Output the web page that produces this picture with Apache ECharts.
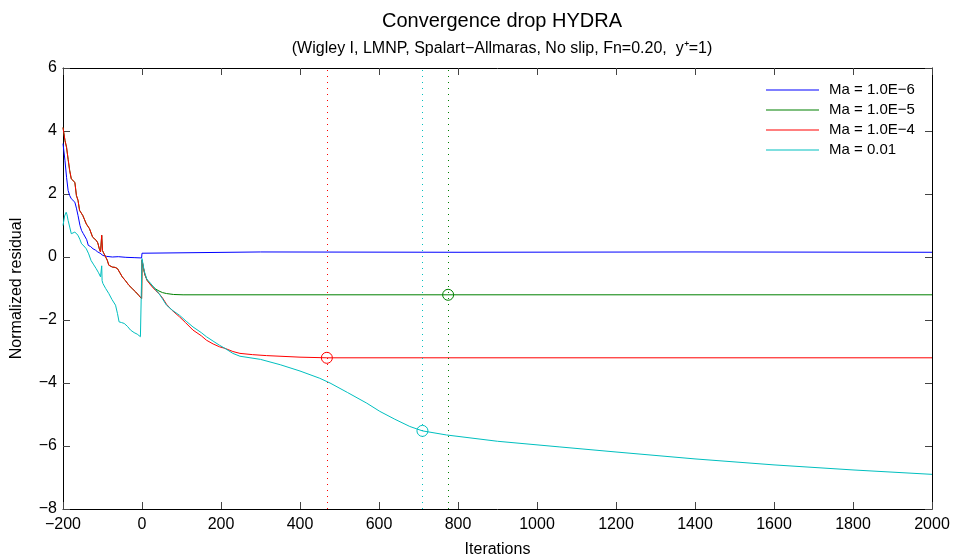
<!DOCTYPE html>
<html>
<head>
<meta charset="utf-8">
<script src="https://cdn.jsdelivr.net/npm/echarts@6/dist/echarts.min.js"></script>
<style>
  html, body { margin: 0; padding: 0; background: #fff; }
  #chart { width: 956px; height: 560px; }
</style>
</head>
<body>
<div id="chart"></div>
<script>
// values
const seriesNames = ["Ma = 1.0E\u22126", "Ma = 1.0E\u22125", "Ma = 1.0E\u22124", "Ma = 0.01"];
const seriesColors = ["#0000ff", "#008000", "#ff0000", "#00bfbf"];

const blueIter = [-200,-195,-191,-187,-183,-179,-174,-170,-166,-162,-157,-153,-149,-145,-140,-136,-130,-124,-118,-112,-106,-99,-90,-75,-60,-41,-20,-1,0,5,300,800,1400,2000];
const blueVal  = [3.6,3.06,2.53,2.11,1.95,1.85,1.8,1.74,1.55,1.32,1.0,0.84,0.75,0.69,0.55,0.37,0.33,0.26,0.22,0.16,0.12,0.05,0.02,0.0,0.01,-0.01,-0.02,-0.03,0.12,0.15,0.16,0.15,0.16,0.15];

// red and green share the same history before iteration 0
const preIter = [-200,-195,-191,-187,-183,-179,-175,-170,-166,-162,-158,-154,-150,-146,-141,-137,-133,-129,-125,-121,-116,-112,-108,-105,-102,-100,-96,-92,-88,-84,-80,-75,-68,-62,-56,-50,-42,-33,-25,-16,-8,-1];
const preVal  = [4.11,3.7,3.48,3.1,2.74,2.48,2.45,2.37,1.95,1.8,1.48,1.4,1.32,1.2,1.05,1.0,0.9,0.95,0.63,0.6,0.53,0.45,0.26,0.16,0.69,0.2,0.1,0.0,-0.1,-0.26,-0.3,-0.32,-0.33,-0.37,-0.5,-0.63,-0.75,-0.9,-1.0,-1.11,-1.22,-1.32];

const greenIter = [0,3,7,13,20,26,35,43,52,62,80,104,400,1000,2000];
const greenVal  = [-0.1,-0.3,-0.55,-0.74,-0.84,-0.92,-1.02,-1.08,-1.13,-1.16,-1.19,-1.2,-1.2,-1.2,-1.2];

const redIter = [0,3,7,13,20,26,35,43,52,62,75,95,110,129,150,163,180,196,210,230,248,280,315,400,468,1000,2000];
const redVal  = [-0.1,-0.3,-0.55,-0.74,-0.86,-0.95,-1.07,-1.16,-1.3,-1.5,-1.68,-1.9,-2.08,-2.32,-2.5,-2.64,-2.76,-2.85,-2.9,-3.0,-3.06,-3.1,-3.13,-3.18,-3.2,-3.2,-3.2];

const cyanIter = [-200,-196,-192,-190,-187,-183,-179,-175,-170,-166,-162,-157,-153,-147,-141,-135,-129,-122,-116,-110,-105,-102,-101,-99,-92,-84,-76,-67,-62,-58,-52,-45,-37,-29,-20,-12,-4,-1,
                  0,3,5,12,22,32,43,52,62,78,95,112,129,150,163,180,196,210,230,248,300,350,400,450,476,520,569,602,640,678,710,771,900,1058,1200,1400,1600,1800,2000];
const cyanVal  = [1.0,1.3,1.42,1.35,1.16,0.95,0.74,0.78,0.79,0.75,0.69,0.55,0.42,0.35,0.26,0.1,-0.11,-0.25,-0.37,-0.5,-0.63,-0.28,-0.75,-0.84,-1.0,-1.16,-1.35,-1.53,-1.8,-2.06,-2.08,-2.11,-2.2,-2.32,-2.4,-2.45,-2.53,-2.55,
                  -0.05,-0.25,-0.42,-0.7,-0.84,-1.0,-1.16,-1.33,-1.53,-1.7,-1.85,-2.04,-2.22,-2.4,-2.53,-2.67,-2.8,-2.9,-3.06,-3.15,-3.25,-3.42,-3.62,-3.85,-4.0,-4.3,-4.64,-4.9,-5.15,-5.38,-5.52,-5.65,-5.85,-6.03,-6.19,-6.41,-6.6,-6.76,-6.9];

// converged iteration markers (circle + dotted vertical line)
const markerIter = [null, 775, 468, 710];
const markerVal  = [null, -1.2, -3.2, -5.52];

const xTicks = { min: -200, max: 2000, interval: 200 };
const yTicks = { min: -8, max: 6, interval: 2 };

function pairs(xs, ys) {
  return xs.map((x, i) => [x, ys[i]]);
}

const lineData = [
  pairs(blueIter, blueVal),
  pairs(preIter.concat(greenIter), preVal.concat(greenVal)),
  pairs(preIter.concat(redIter), preVal.concat(redVal)),
  pairs(cyanIter, cyanVal),
];

const FONT = "Liberation Sans";
const minus = (v) => String(v).replace("-", "\u2212");

const chart = echarts.init(document.getElementById("chart"));

const series = lineData.map((d, i) => {
  const s = {
    name: seriesNames[i],
    type: "line",
    data: d,
    showSymbol: false,
    symbol: "none",
    color: seriesColors[i],
    lineStyle: { width: 1, color: seriesColors[i] },
    emphasis: { disabled: true },
    z: 2 + i,
  };
  if (markerIter[i] !== null) {
    s.markLine = {
      silent: true,
      symbol: "none",
      label: { show: false },
      lineStyle: { type: [1, 5], width: 1, color: seriesColors[i] },
      data: [{ xAxis: markerIter[i] }],
    };
    s.markPoint = {
      silent: true,
      symbol: "circle",
      symbolSize: 11,
      label: { show: false },
      itemStyle: { color: "rgba(0,0,0,0)", borderColor: seriesColors[i], borderWidth: 1 },
      data: [{ coord: [markerIter[i], markerVal[i]] }],
    };
  }
  return s;
});

const axisCommon = {
  type: "value",
  axisLine: { show: true, onZero: false, lineStyle: { color: "#000", width: 1 } },
  axisTick: { show: true, inside: true, length: 7, lineStyle: { color: "#444" } },
  splitLine: { show: false },
};

chart.setOption({
  animation: false,
  backgroundColor: "#fff",
  textStyle: { fontFamily: FONT },
  title: [
    {
      text: "Convergence drop HYDRA",
      left: 497, top: 6, textAlign: "center",
      textStyle: { fontFamily: FONT, fontSize: 20, fontWeight: "normal", color: "#000" },
    },
    {
      text: "(Wigley I, LMNP, Spalart\u2212Allmaras, No slip, Fn=0.20,  y\u207A=1)",
      left: 497, top: 36, textAlign: "center",
      textStyle: { fontFamily: FONT, fontSize: 16, fontWeight: "normal", color: "#000" },
    },
  ],
  legend: {
    orient: "vertical",
    left: 766, top: 80,
    padding: 0,
    icon: "rect",
    itemWidth: 53, itemHeight: 1,
    itemGap: 0,
    selectedMode: false,
    data: seriesNames,
    textStyle: { fontFamily: FONT, fontSize: 15, lineHeight: 20, color: "#000", padding: [0, 0, 0, 5] },
  },
  grid: { left: 63, right: 24, top: 68, bottom: 51, containLabel: false, outerBoundsMode: "none" },
  xAxis: [
    Object.assign({}, axisCommon, xTicks, {
      position: "bottom",
      name: "Iterations",
      nameLocation: "middle",
      nameGap: 33,
      nameTextStyle: { fontFamily: FONT, fontSize: 16, color: "#000" },
      axisLabel: { fontFamily: FONT, fontSize: 16, color: "#000", margin: 8, formatter: minus },
    }),
    Object.assign({}, axisCommon, xTicks, {
      position: "top",
      axisLabel: { show: false },
    }),
  ],
  yAxis: [
    Object.assign({}, axisCommon, yTicks, {
      position: "left",
      name: "Normalized residual",
      nameLocation: "middle",
      nameGap: 38,
      nameRotate: 90,
      nameTextStyle: { fontFamily: FONT, fontSize: 16, color: "#000" },
      axisLabel: { fontFamily: FONT, fontSize: 16, color: "#000", margin: 6, formatter: minus },
    }),
    Object.assign({}, axisCommon, yTicks, {
      position: "right",
      axisLabel: { show: false },
    }),
  ],
  series: series,
});
</script>
</body>
</html>
